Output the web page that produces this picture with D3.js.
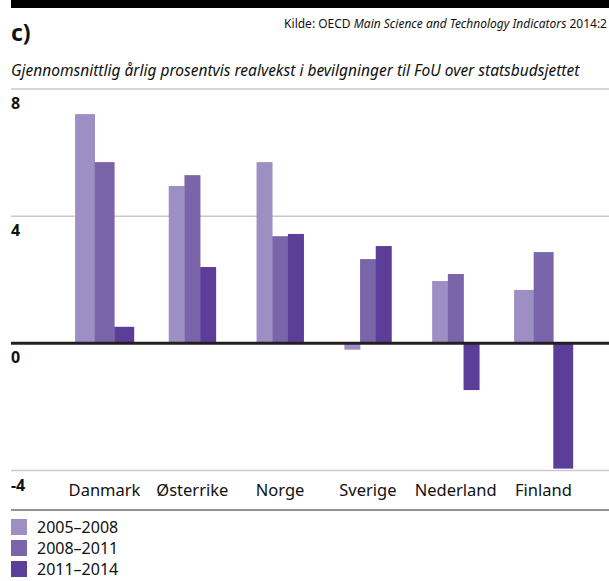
<!DOCTYPE html>
<html>
<head>
<meta charset="utf-8">
<script src="https://cdn.jsdelivr.net/npm/d3@7"></script>
<style>
  html, body { margin: 0; padding: 0; background: #fff; }
  svg { display: block; font-family: "Noto Sans", "Open Sans", sans-serif; }
</style>
</head>
<body>
<svg id="chart" width="609" height="581"></svg>
<script>
const categories = ["Danmark", "Østerrike", "Norge", "Sverige", "Nederland", "Finland"];
const seriesNames = ["2005–2008", "2008–2011", "2011–2014"];
const s2005_2008 = [7.21, 4.95, 5.70, -0.20, 1.96, 1.68];
const s2008_2011 = [5.70, 5.29, 3.37, 2.65, 2.18, 2.87];
const s2011_2014 = [0.52, 2.40, 3.44, 3.06, -1.47, -3.94];
const yTicks = [8, 4, 0, -4];
const titleText = "c)";
const sourcePlain1 = "Kilde: OECD ";
const sourceItalic = "Main Science and Technology Indicators";
const sourcePlain2 = " 2014:2";
const subtitleText = "Gjennomsnittlig årlig prosentvis realvekst i bevilgninger til FoU over statsbudsjettet";

const series = [s2005_2008, s2008_2011, s2011_2014];
const colors = ["#9d8fc4", "#7a65ab", "#5a3e97"];

const W = 609;
const svg = d3.select("#chart");

// top black band
svg.append("rect").attr("x", 11).attr("y", 0).attr("width", W - 11).attr("height", 8).attr("fill", "#000");

svg.append("text").attr("x", 11).attr("y", 41).text(titleText)
  .attr("font-size", 23).attr("font-weight", "bold").attr("fill", "#111");

const src = svg.append("text").attr("x", 607).attr("y", 28).attr("text-anchor", "end")
  .attr("font-size", 12).attr("fill", "#111");
src.append("tspan").text(sourcePlain1);
src.append("tspan").text(sourceItalic).attr("font-style", "italic");
src.append("tspan").text(sourcePlain2);

const sub = svg.append("text").attr("x", 11).attr("y", 76).text(subtitleText)
  .attr("font-size", 15.5).attr("font-style", "italic").attr("fill", "#111");
{
  const len = sub.node().getComputedTextLength();
  if (len > 587) sub.attr("textLength", 587).attr("lengthAdjust", "spacingAndGlyphs");
}

const y = d3.scaleLinear().domain([-4, 8]).range([470.5, 89]);
const x = d3.scaleBand().domain(categories).range([60.6, 587.4]).padding(0);

// gridlines
yTicks.filter(t => t !== 0).forEach(t => {
  svg.append("line").attr("x1", 11).attr("x2", W).attr("y1", y(t)).attr("y2", y(t))
    .attr("stroke", "#c9c9c9").attr("stroke-width", 1.5);
});

// y labels
yTicks.forEach(t => {
  svg.append("text").attr("x", 11).attr("y", y(t) + 20).text(t)
    .attr("font-size", 16).attr("font-weight", "bold").attr("fill", "#111");
});

// bars
const n = categories.length;
const barW = i => (i === 0 || i === n - 1) ? 19.6 : 15.7;
categories.forEach((c, i) => {
  const bw = barW(i);
  const cx = x(c) + x.bandwidth() / 2;
  const start = cx - bw * 1.5;
  series.forEach((s, k) => {
    const v = s[i];
    svg.append("rect")
      .attr("x", start + k * bw)
      .attr("width", bw + 0.3)
      .attr("y", Math.min(y(v), y(0)))
      .attr("height", Math.abs(y(v) - y(0)))
      .attr("fill", colors[k]);
  });
});

// zero line
svg.append("line").attr("x1", 11).attr("x2", W).attr("y1", y(0)).attr("y2", y(0))
  .attr("stroke", "#231f20").attr("stroke-width", 3);

// category labels
categories.forEach(c => {
  svg.append("text").attr("x", x(c) + x.bandwidth() / 2).attr("y", 495.5)
    .attr("text-anchor", "middle").text(c)
    .attr("font-size", 16.5).attr("fill", "#111");
});

// legend separator
svg.append("line").attr("x1", 11).attr("x2", W).attr("y1", 510).attr("y2", 510)
  .attr("stroke", "#6d6d6d").attr("stroke-width", 1.5);

// legend
seriesNames.forEach((nm, k) => {
  const yy = 519 + k * 21;
  svg.append("rect").attr("x", 11).attr("y", yy).attr("width", 16).attr("height", 16).attr("fill", colors[k]);
  svg.append("text").attr("x", 37).attr("y", yy + 14).text(nm)
    .attr("font-size", 16).attr("fill", "#111");
});
</script>
</body>
</html>
